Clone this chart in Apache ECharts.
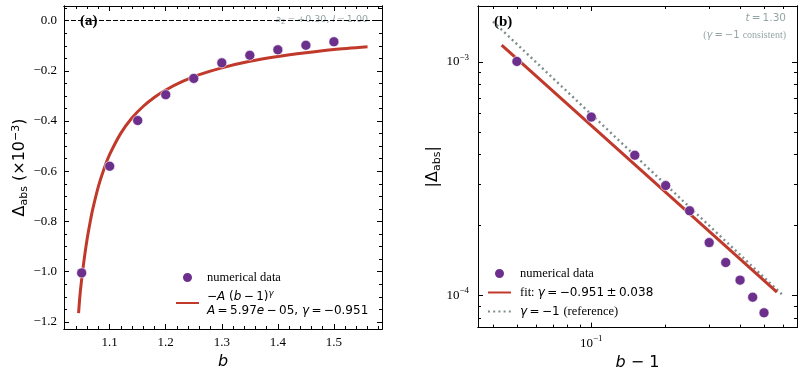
<!DOCTYPE html>
<html>
<head>
<meta charset="utf-8">
<script src="https://cdn.jsdelivr.net/npm/echarts@6/dist/echarts.min.js"></script>
<style>
  html, body { margin: 0; padding: 0; background: #fff; }
  #chart { width: 804px; height: 376px; }
</style>
</head>
<body>
<div id="chart"></div>
<script>
// panel (a): Delta_abs (x1e-3) against b
const bValues = [1.05, 1.10, 1.15, 1.20, 1.25, 1.30, 1.35, 1.40, 1.45, 1.50];
const deltaAbs = [-1.005, -0.58, -0.398, -0.295, -0.23, -0.168, -0.138, -0.116, -0.098, -0.084];
// fitted curve
const fitB = [1.0445, 1.047, 1.05, 1.053, 1.056, 1.06, 1.065, 1.07, 1.08, 1.09, 1.10, 1.12, 1.14, 1.16, 1.18, 1.20, 1.23, 1.26, 1.30, 1.35, 1.40, 1.45, 1.50, 1.56];
const fitDelta = [-1.165, -1.094, -1.031, -0.976, -0.926, -0.867, -0.804, -0.749, -0.659, -0.590, -0.533, -0.448, -0.387, -0.341, -0.305, -0.276, -0.242, -0.215, -0.188, -0.162, -0.143, -0.128, -0.115, -0.104];
const xMajorA = [1.1, 1.2, 1.3, 1.4, 1.5];
const xMinorA = [1.04, 1.06, 1.08, 1.12, 1.14, 1.16, 1.18, 1.22, 1.24, 1.26, 1.28, 1.32, 1.34, 1.36, 1.38, 1.42, 1.44, 1.46, 1.48, 1.52, 1.54, 1.56, 1.58];
const yMajorA = [0, -0.2, -0.4, -0.6, -0.8, -1.0, -1.2];
const yMinorA = [0.05, -0.05, -0.1, -0.15, -0.25, -0.3, -0.35, -0.45, -0.5, -0.55, -0.65, -0.7, -0.75, -0.85, -0.9, -0.95, -1.05, -1.1, -1.15];

// panel (b): |Delta_abs| against b-1, log-log
const bMinus1 = [0.05, 0.10, 0.15, 0.20, 0.25, 0.30, 0.35, 0.40, 0.45, 0.50];
const fitLineX = [0.0434, 0.564];
const fitLineY = [1.18e-3, 1.03e-4];
const refLineX = [0.04, 0.59];
const refLineY = [1.49e-3, 1.01e-4];
const xMajorB = [0.1];
const xMinorB = [0.04, 0.05, 0.06, 0.07, 0.08, 0.09, 0.2, 0.3, 0.4, 0.5, 0.6];
const yMajorB = [1e-4, 1e-3];
const yMinorB = [8e-5, 9e-5, 2e-4, 3e-4, 4e-4, 5e-4, 6e-4, 7e-4, 8e-4, 9e-4];

const PURPLE = '#6c2f8c';
const RED = '#c0392b';
const GREY = '#7f8c8d';
const NOTE = '#95a5a6';
const SERIF = 'Liberation Serif';
const SANS = 'DejaVu Sans';
const TH = '\u2009'; // thin space, closer to mathtext spacing

const chart = echarts.init(document.getElementById('chart'));

// one axis for one side of a frame; major and minor ticks are separate axes
function axis(gridIndex, position, type, min, max, ticks, len, extra) {
  const a = {
    type: type,
    gridIndex: gridIndex,
    position: position,
    min: min,
    max: max,
    axisLine: { show: true, onZero: false, lineStyle: { color: '#000', width: 1 } },
    axisTick: { show: true, inside: true, length: len, lineStyle: { color: '#000', width: 1 }, customValues: ticks },
    axisLabel: { show: false },
    splitLine: { show: false },
    minorTick: { show: false }
  };
  return Object.assign(a, extra || {});
}

const linLabel = v => (Math.abs(v) < 1e-9 ? '0.0' : v.toFixed(1).replace('-', '\u2212'));
const logLabel = v => '{b|10}{s|\u2212' + Math.round(-Math.log10(v)) + '}';
const tickFont = { fontFamily: SERIF, fontSize: 13, color: '#000' };
const logRich = {
  rich: {
    b: { fontFamily: SERIF, fontSize: 13, color: '#000' },
    s: { fontFamily: SERIF, fontSize: 9, color: '#000', padding: [0, 0, 9, 0] }
  }
};

const xA = [1.0185, 1.5858], yA = [-1.2285, 0.0585];
const xB = [0.0348, 0.68], yB = [7.26e-5, 1.737e-3];

const xAxes = [
  axis(0, 'bottom', 'value', xA[0], xA[1], xMajorA, 5, {
    axisLabel: Object.assign({ show: true, margin: 7, customValues: xMajorA, formatter: v => v.toFixed(1) }, tickFont),
    name: 'b', nameLocation: 'middle', nameGap: 20,
    nameTextStyle: { fontFamily: SANS, fontStyle: 'italic', fontSize: 16, color: '#000' }
  }),
  axis(0, 'bottom', 'value', xA[0], xA[1], xMinorA, 3),
  axis(0, 'top', 'value', xA[0], xA[1], xMajorA, 5),
  axis(0, 'top', 'value', xA[0], xA[1], xMinorA, 3),
  axis(1, 'bottom', 'log', xB[0], xB[1], xMajorB, 5, {
    axisLabel: Object.assign({ show: true, margin: 7, customValues: xMajorB, formatter: logLabel }, logRich),
    name: '{i|b}{n| \u2212 1}', nameLocation: 'middle', nameGap: 20,
    nameTextStyle: { rich: { i: { fontFamily: SANS, fontStyle: 'italic', fontSize: 16, color: '#000' }, n: { fontFamily: SANS, fontSize: 16, color: '#000' } } }
  }),
  axis(1, 'bottom', 'log', xB[0], xB[1], xMinorB, 3),
  axis(1, 'top', 'log', xB[0], xB[1], xMajorB, 5),
  axis(1, 'top', 'log', xB[0], xB[1], xMinorB, 3)
];

const nameRich = {
  d: { fontFamily: SANS, fontSize: 16, color: '#000' },
  sub: { fontFamily: SANS, fontSize: 11, color: '#000', padding: [8, 0, 0, 0] },
  sup: { fontFamily: SANS, fontSize: 11, color: '#000', padding: [0, 0, 8, 0] }
};

const yAxes = [
  axis(0, 'left', 'value', yA[0], yA[1], yMajorA, 5, {
    axisLabel: Object.assign({ show: true, margin: 7, customValues: yMajorA, formatter: linLabel }, tickFont),
    name: '{d|\u0394}{sub|abs}{d| (\u00d710}{sup|\u22123}{d|)}', nameLocation: 'middle', nameGap: 33,
    nameTextStyle: { rich: nameRich }
  }),
  axis(0, 'left', 'value', yA[0], yA[1], yMinorA, 3),
  axis(0, 'right', 'value', yA[0], yA[1], yMajorA, 5),
  axis(0, 'right', 'value', yA[0], yA[1], yMinorA, 3),
  axis(1, 'left', 'log', yB[0], yB[1], yMajorB, 5, {
    axisLabel: Object.assign({ show: true, margin: 9, customValues: yMajorB, formatter: logLabel }, logRich),
    name: '{d||\u0394}{sub|abs}{d||}', nameLocation: 'middle', nameGap: 28,
    nameTextStyle: { rich: nameRich }
  }),
  axis(1, 'left', 'log', yB[0], yB[1], yMinorB, 3),
  axis(1, 'right', 'log', yB[0], yB[1], yMajorB, 5),
  axis(1, 'right', 'log', yB[0], yB[1], yMinorB, 3)
];

const legendRich = {
  t: { fontFamily: SERIF, fontSize: 12.5, color: '#000' },
  m: { fontFamily: SANS, fontSize: 12, color: '#000' },
  mi: { fontFamily: SANS, fontStyle: 'italic', fontSize: 12, color: '#000' },
  sup: { fontFamily: SANS, fontStyle: 'italic', fontSize: 8.5, color: '#000', padding: [0, 0, 7, 0] }
};
const legendNames = {
  'data a': '{t|numerical data}',
  'fit a': '{m|\u2212}{mi|A}{m| (}{mi|b}{m|' + TH + '\u2212' + TH + '1)}{sup|\u03b3}\n' +
           '{mi|A}{m|' + TH + '=' + TH + '5.97}{mi|e}{m|' + TH + '\u2212' + TH + '05, }{mi|\u03b3}{m|' + TH + '=' + TH + '\u22120.951}',
  'data b': '{t|numerical data}',
  'fit b': '{t|fit: }{mi|\u03b3}{m|' + TH + '=' + TH + '\u22120.951' + TH + '\u00b1' + TH + '0.038}',
  'ref b': '{mi|\u03b3}{m|' + TH + '=' + TH + '\u22121 }{t|(reference)}'
};
const noSymbol = { opacity: 0 };

chart.setOption({
  animation: false,
  grid: [
    { left: 64, top: 6, width: 318, height: 323 },
    { left: 478, top: 6, width: 319, height: 324 }
  ],
  xAxis: xAxes,
  yAxis: yAxes,
  legend: [
    {
      data: ['data a', { name: 'fit a', itemStyle: noSymbol }],
      orient: 'vertical', left: 170, top: 266,
      itemWidth: 23, itemHeight: 11, itemGap: 5, selectedMode: false,
      formatter: n => legendNames[n], textStyle: { rich: legendRich, padding: [0, 0, 0, 3] }
    },
    {
      data: ['data b', { name: 'fit b', itemStyle: noSymbol }, { name: 'ref b', itemStyle: noSymbol }],
      orient: 'vertical', left: 482, top: 262,
      itemWidth: 23, itemHeight: 11, itemGap: 6, selectedMode: false,
      formatter: n => legendNames[n], textStyle: { rich: legendRich, padding: [0, 0, 0, 4] }
    }
  ],
  graphic: [
    { type: 'text', left: 80, top: 14, style: { text: '(a)', fontFamily: SERIF, fontWeight: 'bold', fontSize: 15, fill: '#000' } },
    { type: 'text', left: 494, top: 15, style: { text: '(b)', fontFamily: SERIF, fontWeight: 'bold', fontSize: 15, fill: '#000' } },
    { type: 'text', right: 804 - 368, top: 15, style: {
        text: '{i|a}{s|2}{n|' + TH + '=' + TH + '+0.30, }{i|l}{n|' + TH + '=' + TH + '1.00}',
        rich: {
          i: { fontFamily: SANS, fontStyle: 'italic', fontSize: 9.5, fill: NOTE },
          n: { fontFamily: SANS, fontSize: 9.5, fill: NOTE },
          s: { fontFamily: SANS, fontSize: 7, fill: NOTE, padding: [4, 0, 0, 0] }
        } } },
    { type: 'text', right: 804 - 786, top: 13, style: {
        text: '{i|t}{n|' + TH + '=' + TH + '1.30}',
        rich: {
          i: { fontFamily: SANS, fontStyle: 'italic', fontSize: 10.5, fill: NOTE },
          n: { fontFamily: SANS, fontSize: 10.5, fill: NOTE }
        } } },
    { type: 'text', right: 804 - 786, top: 30, style: {
        text: '{s|(}{i|\u03b3}{n|' + TH + '=' + TH + '\u22121 }{s|consistent)}',
        rich: {
          i: { fontFamily: SANS, fontStyle: 'italic', fontSize: 10, fill: NOTE },
          n: { fontFamily: SANS, fontSize: 10, fill: NOTE },
          s: { fontFamily: SERIF, fontSize: 10, fill: NOTE }
        } } }
  ],
  series: [
    {
      name: 'fit a', type: 'line', xAxisIndex: 0, yAxisIndex: 0,
      data: fitB.map((b, i) => [b, fitDelta[i]]),
      smooth: 0.25, symbol: 'none', showSymbol: false,
      lineStyle: { color: RED, width: 3 }, itemStyle: { color: RED }, z: 2
    },
    {
      name: 'data a', type: 'scatter', xAxisIndex: 0, yAxisIndex: 0,
      data: bValues.map((b, i) => [b, deltaAbs[i]]),
      symbol: 'circle', symbolSize: 10,
      itemStyle: { color: PURPLE, borderColor: '#fff', borderWidth: 0.6, opacity: 1 }, z: 3,
      markLine: {
        silent: true, symbol: 'none', label: { show: false },
        lineStyle: { color: '#000', width: 1, type: [5, 2] },
        data: [{ yAxis: 0 }]
      }
    },
    {
      name: 'ref b', type: 'line', xAxisIndex: 4, yAxisIndex: 4,
      data: refLineX.map((x, i) => [x, refLineY[i]]),
      symbol: 'none', showSymbol: false,
      lineStyle: { color: GREY, width: 2.4, type: [2, 3.2] }, itemStyle: { color: GREY }, z: 2
    },
    {
      name: 'fit b', type: 'line', xAxisIndex: 4, yAxisIndex: 4,
      data: fitLineX.map((x, i) => [x, fitLineY[i]]),
      symbol: 'none', showSymbol: false,
      lineStyle: { color: RED, width: 3 }, itemStyle: { color: RED }, z: 2
    },
    {
      name: 'data b', type: 'scatter', xAxisIndex: 4, yAxisIndex: 4,
      data: bMinus1.map((x, i) => [x, Math.abs(deltaAbs[i]) * 1e-3]),
      symbol: 'circle', symbolSize: 10,
      itemStyle: { color: PURPLE, borderColor: '#fff', borderWidth: 0.6, opacity: 1 }, z: 3
    }
  ]
});
</script>
</body>
</html>
